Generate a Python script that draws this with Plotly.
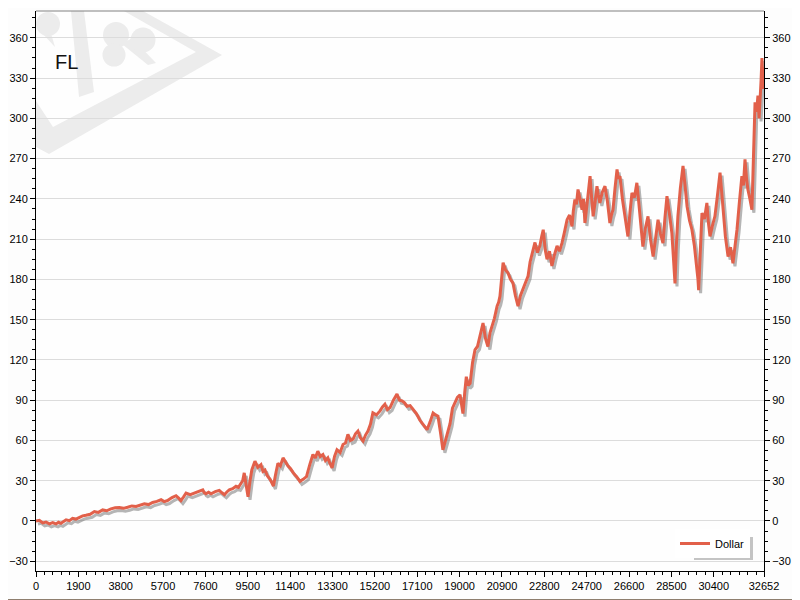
import plotly.graph_objects as go

# cumulative result of the FL system
trade_no = [
    0, 150, 300, 450, 600, 750, 900, 1010, 1120, 1230, 1350, 1500, 1640, 1790,
    1940, 2090, 2240, 2430, 2620, 2800, 2990, 3170, 3360, 3550, 3740, 3920,
    4110, 4300, 4490, 4680, 4860, 5050, 5230, 5420, 5610, 5750, 5900, 6100,
    6280, 6400, 6500, 6620, 6730, 6920, 7100, 7300, 7480, 7550, 7620, 7740,
    7850, 8040, 8220, 8340, 8450, 8560, 8670, 8820, 8970, 9080, 9190, 9270,
    9340, 9420, 9510, 9600, 9680,
    9820, 9950, 10090, 10180, 10270, 10380, 10500, 10570, 10650, 10750, 10850,
    10960, 11080, 11190, 11300, 11420, 11530, 11690, 11840, 11980, 12130,
    12280, 12420, 12530, 12640, 12750, 12870, 12980, 13090, 13180, 13280,
    13390, 13500, 13640, 13770, 13880, 13990, 14100, 14220, 14330, 14440,
    14550, 14670, 14780, 14890, 15000, 15110, 15270, 15430, 15540, 15650,
    15760, 15880, 16030, 16190, 16300, 16420, 16530, 16640, 16780, 16910,
    17060, 17220, 17380, 17540, 17680, 17810, 17920, 18030, 18140, 18250,
    18400, 18570, 18680, 18790, 18900, 19020, 19080, 19150, 19230, 19300,
    19380, 19470, 19580, 19690, 19800, 19910, 19980, 20050, 20160, 20270,
    20360, 20450, 20560, 20680, 20750, 20810, 20880, 20950, 21060, 21170,
    21280, 21390, 21500, 21620, 21730, 21840, 21950, 22070, 22160, 22250,
    22320, 22380, 22490, 22600, 22680, 22750, 22840, 22920, 23030, 23140,
    23250, 23370, 23480, 23590, 23700, 23820, 23930, 24040, 24100, 24170,
    24240, 24310, 24400, 24490, 24560, 24620, 24740, 24850, 24920, 24990,
    25080, 25160, 25220, 25290, 25400, 25520, 25630, 25740, 25810, 25880,
    25970, 26060, 26120, 26190, 26300, 26420, 26480, 26550, 26640, 26730,
    26840, 26950, 27020, 27090, 27160, 27220, 27330, 27450, 27560, 27680,
    27790, 27900, 28010, 28120, 28210, 28300, 28410, 28520, 28590, 28660,
    28720, 28790, 28900, 29020, 29110, 29200, 29310, 29420, 29530, 29650,
    29690, 29720, 29800, 29870, 29980, 30090, 30160, 30230, 30340, 30450,
    30560, 30680, 30750, 30810, 30920, 31040, 31150, 31260, 31350, 31440,
    31550, 31660, 31730, 31800, 31870, 31930, 32020, 32110, 32160, 32200,
    32250, 32320, 32380, 32430, 32470, 32520, 32560, 32600, 32652,
]
dollar = [
    0, 0.5, -1.5, -0.8, -2.2, -1.2, -2.2, -1, -1.8, -0.5, 0.8, 0.2, 2, 1.4,
    2.8, 3.8, 4.2, 5, 7, 6.4, 8.2, 7.6, 9, 9.8, 10, 9.4,
    10.2, 11.2, 10.8, 11.6, 12.8, 12.2, 13.8, 14.6, 15.8, 14.4, 15.2, 17.4,
    18.8, 17, 15.2, 18, 20.8, 19.6, 20.8, 21.6, 23.2, 21, 20.2, 21.4,
    20.2, 21.8, 22.8, 21, 19.5, 21.6, 23.2, 24, 25.8, 25, 27.8, 30,
    35.8, 27, 18, 30, 38,
    44.5, 40, 42, 37, 38, 33.5, 31, 29, 26, 35, 43,
    41, 47, 44, 41, 39, 36, 33, 29.5, 31, 33,
    42, 49.5, 47, 52, 48, 49.5, 45, 47, 43, 39.5,
    48, 53, 51, 57, 58, 64.5, 60, 61, 65, 67,
    62, 59.5, 64, 67, 72, 80.5, 79, 82, 85, 87,
    83, 84.5, 90, 94.5, 90, 89.5, 88, 85.5, 86, 83,
    80, 75, 71, 68, 74, 80.5, 79, 78, 66, 53,
    62, 72.5, 84, 87.5, 92, 94, 88, 80, 96, 107.5,
    101, 102.5, 118, 127.5, 130, 137.5, 142, 147.5, 136, 130,
    140, 145, 151, 160, 163, 167.5, 180, 192.5, 187, 185,
    180, 177.5, 168, 160, 168, 172.5, 178, 182.5, 193, 200,
    205, 207.5, 200, 205, 212, 217, 202, 195, 201, 190,
    198, 205, 201, 207, 215, 224.5, 228, 219.5, 231, 239.5,
    236, 247, 240, 232, 240, 222, 240, 257, 241, 227,
    238, 249.5, 243, 237, 245, 249.5, 238, 222, 228, 232,
    248, 262, 255, 257, 240, 227, 218, 212, 230, 244.5,
    241, 252, 240, 229.5, 215, 204.5, 218, 227, 210, 197,
    212, 224.5, 214, 207, 226, 242, 229, 214.5, 196, 177,
    205, 227, 248, 264.5, 250, 234.5, 224, 217, 205, 189.5,
    180, 172, 205, 229.5, 225, 237, 222, 212, 220, 227,
    242, 259.5, 246, 232, 212, 197, 204, 192, 205, 217,
    238, 257, 250, 269.5, 255, 247, 240, 232, 260, 290,
    312, 305, 317, 300, 310, 328, 345, 322, 338,
]

x_ticks = [0, 1900, 3800, 5700, 7600, 9500, 11400, 13300, 15200, 17100,
           19000, 20900, 22800, 24700, 26600, 28500, 30400, 32652]
y_ticks = [-30, 0, 30, 60, 90, 120, 150, 180, 210, 240, 270, 300, 330, 360]

# the page puts the figure 8px in from the window corner, so every
# screen position below is shifted by OFF
OFF = 8
W, H = 800 - OFF, 600 - OFF
L, R, T, B = 36 - OFF, 764 - OFF, 11 - OFF, 571 - OFF
X_MAX = 32652
Y_MIN, Y_MAX = -37.3, 380
ux = X_MAX / (R - L)
uy = (Y_MAX - Y_MIN) / (B - T)
SDX, SDY = 2, 3  # shadow offset in px


def pp(px, py):
    # screen pixel -> paper coords
    return (px - OFF - L) / (R - L), (B - (py - OFF)) / (B - T)


def path(points):
    pts = [pp(*p) for p in points]
    return "M " + " L ".join(f"{x:.5f},{y:.5f}" for x, y in pts) + " Z"


def circle(cx, cy, r, color):
    x0, y0 = pp(cx - r, cy + r)
    x1, y1 = pp(cx + r, cy - r)
    return dict(type="circle", xref="paper", yref="paper", x0=x0, y0=y0,
                x1=x1, y1=y1, fillcolor=color, line_width=0, layer="below")


WM = "#ececec"
shapes = [
    dict(type="path", xref="paper", yref="paper", layer="below", line_width=0, fillcolor=WM,
         path=path([(143, 11), (222, 55), (49, 154), (36, 147), (36, 101),
                    (53, 127), (196, 52), (124, 11)])),
    dict(type="path", xref="paper", yref="paper", layer="below", line_width=0, fillcolor=WM,
         path=path([(71, 11), (84, 11), (94, 92), (79, 97)])),
    dict(type="path", xref="paper", yref="paper", layer="below", line_width=0, fillcolor=WM,
         path=path([(122, 44), (132, 38), (156, 63), (148, 65)])),
    dict(type="path", xref="paper", yref="paper", layer="below", line_width=0, fillcolor=WM,
         path=path([(42, 33), (50, 30), (55, 47)])),
    circle(116, 35, 13, WM),
    circle(143, 40, 12.5, WM),
    circle(114, 55, 11.5, WM),
    circle(48, 24, 12, WM),
    # top frame line of the plot area
    dict(type="line", xref="paper", yref="paper", x0=0, x1=1, y0=1, y1=1,
         line=dict(color="#808080", width=1)),
    # legend shadow
    dict(type="rect", xref="paper", yref="paper",
         x0=pp(694, 0)[0], x1=pp(753, 0)[0], y0=pp(0, 560)[1], y1=pp(0, 537)[1],
         fillcolor="#c4c4c4", line_width=0),
    # outer border of the picture
    dict(type="rect", xref="paper", yref="paper",
         x0=pp(0.5, 0)[0], x1=pp(799.5, 0)[0], y0=pp(0, 599.5)[1], y1=pp(0, 0.5)[1],
         line=dict(color="#8e7e6e", width=1)),
]

fig = go.Figure()
fig.add_trace(go.Scatter(
    x=trade_no, y=dollar, mode="lines", xaxis="x", yaxis="y",
    line=dict(color="rgba(120,120,120,0.55)", width=3),
    showlegend=False, hoverinfo="skip"
))
fig.add_trace(go.Scatter(
    x=trade_no, y=dollar, mode="lines", xaxis="x2", yaxis="y2",
    name="Dollar", line=dict(color="#e2604a", width=3)
))
# right hand labels
fig.add_trace(go.Scatter(
    x=[None], y=[None], xaxis="x2", yaxis="y3", showlegend=False
))

font = dict(family="Liberation Sans, Arial", size=11, color="black")
axis_common = dict(ticks="outside", ticklen=5, tickcolor="black", showline=True,
                   linecolor="black", linewidth=1, zeroline=False, tickfont=font,
                   automargin=False)

fig.update_layout(
    width=W, height=H,
    margin=dict(l=L, r=W - R, t=T, b=H - B, autoexpand=False),
    paper_bgcolor="#fdfdfd",
    plot_bgcolor="#fefefe",
    font=font,
    showlegend=True,
    shapes=shapes,
    xaxis=dict(visible=False, range=[-SDX * ux, X_MAX - SDX * ux], automargin=False),
    yaxis=dict(visible=False, range=[Y_MIN + SDY * uy, Y_MAX + SDY * uy], automargin=False),
    xaxis2=dict(overlaying="x", anchor="y2", range=[0, X_MAX],
                tickmode="array", tickvals=x_ticks, ticktext=[str(v) for v in x_ticks],
                showgrid=False,
                minor=dict(ticks="outside", ticklen=3, dtick=380, tick0=0, tickcolor="black"),
                **axis_common),
    yaxis2=dict(overlaying="y", anchor="x2", range=[Y_MIN, Y_MAX],
                tickmode="array", tickvals=y_ticks, showgrid=True, gridcolor="#dcdcdc",
                minor=dict(ticks="outside", ticklen=3, dtick=7.5, tick0=0, tickcolor="black"),
                **axis_common),
    yaxis3=dict(overlaying="y", anchor="x2", side="right", range=[Y_MIN, Y_MAX],
                tickmode="array", tickvals=y_ticks, showgrid=False,
                minor=dict(ticks="outside", ticklen=3, dtick=7.5, tick0=0, tickcolor="black"),
                **axis_common),
    legend=dict(x=pp(750, 0)[0], y=pp(0, 558)[1], xanchor="right", yanchor="bottom",
                bgcolor="white", borderwidth=0, font=font, itemwidth=30),
    annotations=[dict(text="FL", xref="paper", yref="paper", x=pp(53, 0)[0], y=pp(0, 62)[1],
                      xanchor="left", yanchor="middle", showarrow=False,
                      font=dict(family="Liberation Sans, Arial", size=20, color="#111111"))],
)

fig.write_html("out.html")
